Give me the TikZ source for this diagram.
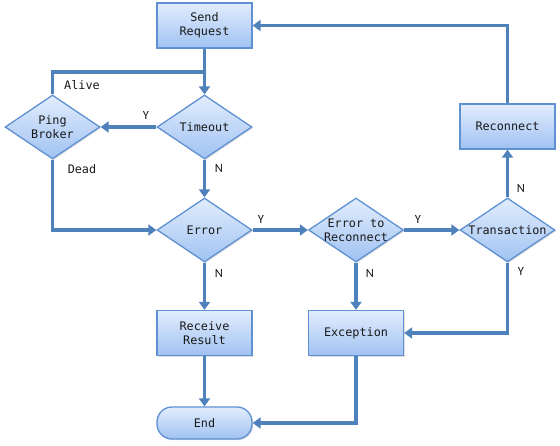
\documentclass[tikz,border=0pt]{standalone}
\usepackage{fontspec}
\setmonofont{DejaVu Sans Mono}
\newfontfamily\labfont{Carlito}
\usetikzlibrary{shapes.geometric,arrows.meta,shadows}
\definecolor{topc}{RGB}{226,237,253}
\definecolor{botc}{RGB}{160,194,242}
\definecolor{bord}{RGB}{95,145,210}
\definecolor{linec}{RGB}{79,129,189}
\tikzset{
  txt/.style={font=\ttfamily\fontsize{11.8}{14}\selectfont, align=center, text=black!90},
  shade/.style={top color=topc, bottom color=botc, draw=bord, line width=1.3pt},
  shad/.style={drop shadow={opacity=0.25, shadow xshift=1.2pt, shadow yshift=-1.2pt}},
  boxnode/.style={rectangle, shade, shad, txt, minimum width=95pt, minimum height=45pt, inner sep=0pt},
  endnode/.style={rectangle, rounded corners=15pt, shade, shad, txt, minimum width=95pt, minimum height=32pt, inner sep=0pt},
  dia/.style={diamond, shade, shad, minimum width=95pt, minimum height=64pt, inner sep=0pt},
  dlab/.style={txt, inner sep=0pt},
  conn/.style={draw=linec, line width=3.2pt, -{Triangle[width=11pt,length=8pt]}},
  plain/.style={draw=linec, line width=3.2pt},
  yn/.style={font=\labfont\fontsize{12.5}{13}\selectfont, text=black!90, inner sep=0pt},
  side/.style={font=\ttfamily\fontsize{11.8}{13}\selectfont, text=black!90, inner sep=0pt}
}
\begin{document}
\begin{tikzpicture}[x=1pt,y=-1pt]
\useasboundingbox (0,0) rectangle (560,446);
\node[boxnode] (send) at (204.5,25.5) {Send\\Request};
\node[dia, label={[dlab]center:Timeout}] (tout) at (204.5,127) {};
\node[dia, label={[dlab]center:Ping\\Broker}] (ping) at (52.5,127) {};
\node[dia, label={[dlab]center:Error}] (err) at (204.5,230) {};
\node[dia, label={[dlab]center:Error to\\Reconnect}] (etr) at (356,230) {};
\node[dia, label={[dlab]center:Transaction}] (trans) at (507.5,230) {};
\node[boxnode] (recv) at (204.5,333) {Receive\\Result};
\node[boxnode] (exc) at (356,333) {Exception};
\node[boxnode] (recon) at (507.5,126.5) {Reconnect};
\node[endnode] (end) at (204.5,423) {End};
\coordinate (j1) at (204.5,72);

\draw[conn] (send.south) -- (tout.north);
\draw[plain] (ping.north) |- (j1);
\draw[conn] (tout.west) -- (ping.east);
\draw[conn] (tout.south) -- (err.north);
\draw[conn] (ping.south) |- (err.west);
\draw[conn] (err.south) -- (recv.north);
\draw[conn] (recv.south) -- (end.north);
\draw[conn] (err.east) -- (etr.west);
\draw[conn] (etr.east) -- (trans.west);
\draw[conn] (etr.south) -- (exc.north);
\draw[conn] (trans.south) |- (exc.east);
\draw[conn] (exc.south) |- (end.east);
\draw[conn] (trans.north) -- (recon.south);
\draw[conn] (recon.north) |- (send.east);

\node[side] (alive) at (82,85) {Alive};
\node[side] (dead) at (82,169) {Dead};
\node[yn] (y1) at (146,115) {Y};
\node[yn] (n1) at (219,168) {N};
\node[yn] (n2) at (219,273) {N};
\node[yn] (y2) at (261,219) {Y};
\node[yn] (y3) at (418,219) {Y};
\node[yn] (n3) at (370,273) {N};
\node[yn] (y4) at (521,271) {Y};
\node[yn] (n4) at (521,188) {N};
\end{tikzpicture}
\end{document}
